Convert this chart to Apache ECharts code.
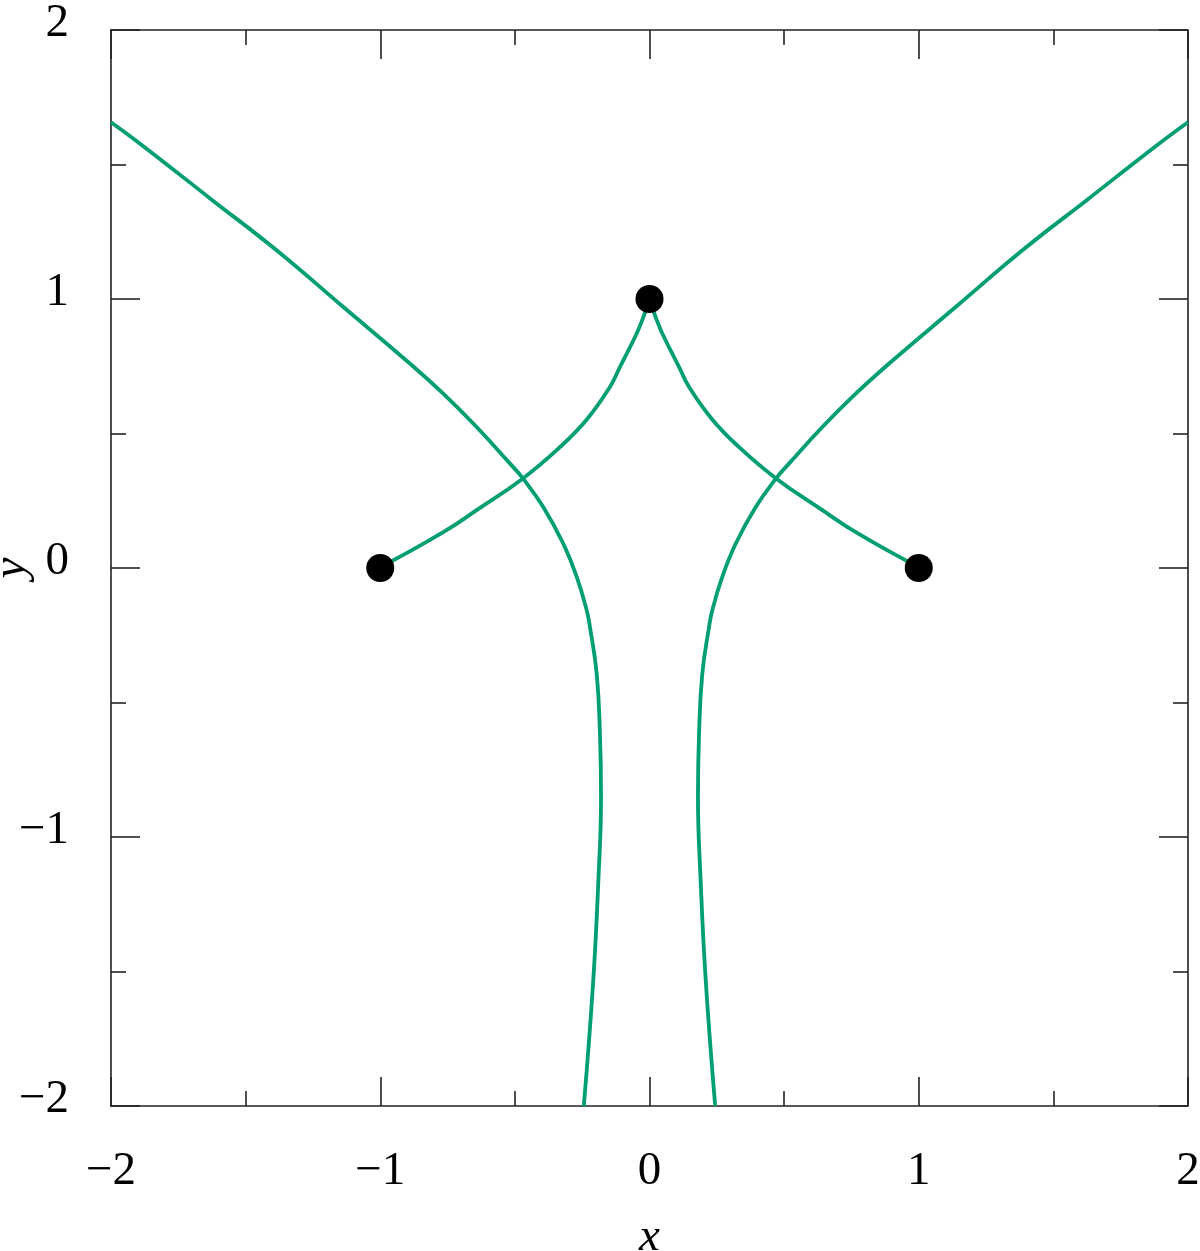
<!DOCTYPE html>
<html>
<head>
<meta charset="utf-8">
<script src="https://cdn.jsdelivr.net/npm/echarts@6/dist/echarts.min.js"></script>
<style>
html,body{margin:0;padding:0;background:#fff;}
#chart{width:1200px;height:1251px;}
</style>
</head>
<body>
<div id="chart"></div>
<script>
// ---- data ----
var leftOuterX = [-2.0, -1.880, -1.632, -1.385, -1.137, -0.890, -0.766, -0.642, -0.518, -0.470, -0.394, -0.320, -0.270, -0.233, -0.221, -0.196, -0.184, -0.180, -0.190, -0.209, -0.244];
var leftOuterY = [1.657, 1.568, 1.374, 1.181, 0.970, 0.760, 0.648, 0.524, 0.388, 0.333, 0.226, 0.090, -0.034, -0.158, -0.220, -0.394, -0.617, -0.850, -1.163, -1.535, -2.0];
var rightOuterX = [2.0, 1.880, 1.632, 1.385, 1.137, 0.890, 0.766, 0.642, 0.518, 0.470, 0.394, 0.320, 0.270, 0.233, 0.221, 0.196, 0.184, 0.180, 0.190, 0.209, 0.244];
var rightOuterY = [1.657, 1.568, 1.374, 1.181, 0.970, 0.760, 0.648, 0.524, 0.388, 0.333, 0.226, 0.090, -0.034, -0.158, -0.220, -0.394, -0.617, -0.850, -1.163, -1.535, -2.0];
var leftArcX = [-1.0, -0.952, -0.766, -0.642, -0.470, -0.332, -0.233, -0.147, -0.110, -0.048, -0.022, 0.0];
var leftArcY = [0.0, 0.028, 0.133, 0.215, 0.333, 0.450, 0.552, 0.673, 0.747, 0.871, 0.935, 1.0];
var rightArcX = [1.0, 0.952, 0.766, 0.642, 0.470, 0.332, 0.233, 0.147, 0.110, 0.048, 0.022, 0.0];
var rightArcY = [0.0, 0.028, 0.133, 0.215, 0.333, 0.450, 0.552, 0.673, 0.747, 0.871, 0.935, 1.0];
var pointX = [-1, 0, 1];
var pointY = [0, 1, 0];
var xTicks = [-2, -1, 0, 1, 2];
var yTicks = [-2, -1, 0, 1, 2];

function zip(a, b) { return a.map(function (v, i) { return [v, b[i]]; }); }
function fmt(v) { return v < 0 ? '\u2212' + Math.abs(v) : String(v); }

var FONT = 'Liberation Serif';
var GREEN = '#009e73';
var AX = '#222';

function baseAxis(extra) {
  var o = {
    type: 'value', min: -2, max: 2, interval: 1,
    axisLine: { show: true, onZero: false, lineStyle: { color: AX, width: 1.6 } },
    axisTick: { show: true, inside: true, length: 29, lineStyle: { color: AX, width: 1.6 } },
    minorTick: { show: true, splitNumber: 2, length: 15, lineStyle: { color: AX, width: 1.6 } },
    splitLine: { show: false },
    minorSplitLine: { show: false }
  };
  for (var k in extra) o[k] = extra[k];
  return o;
}

var chart = echarts.init(document.getElementById('chart'), null, { renderer: 'canvas' });
var lineStyle = { color: GREEN, width: 3.8 };

chart.setOption({
  animation: false,
  backgroundColor: '#fff',
  grid: { left: 111, right: 12, top: 30, bottom: 145, containLabel: false, outerBoundsMode: 'none' },
  xAxis: [
    baseAxis({
      position: 'bottom',
      axisLabel: { show: true, fontFamily: FONT, fontSize: 47, color: '#000', margin: 42,
        formatter: function (v) { return xTicks.indexOf(v) >= 0 ? fmt(v) : ''; } },
      name: 'x', nameLocation: 'middle', nameGap: 108, nameMoveOverlap: false,
      nameTextStyle: { fontFamily: FONT, fontStyle: 'italic', fontSize: 47, color: '#000' }
    }),
    baseAxis({ position: 'top', axisLabel: { show: false } })
  ],
  yAxis: [
    baseAxis({
      position: 'left',
      axisLabel: { show: true, fontFamily: FONT, fontSize: 47, color: '#000', margin: 42,
        verticalAlign: 'bottom', lineHeight: 12,
        formatter: function (v) { return yTicks.indexOf(v) >= 0 ? fmt(v) : ''; } },
      name: 'y', nameLocation: 'middle', nameGap: 76, nameMoveOverlap: false,
      nameTextStyle: { fontFamily: FONT, fontStyle: 'italic', fontSize: 47, color: '#000' }
    }),
    baseAxis({ position: 'right', axisLabel: { show: false } })
  ],
  series: [
    { type: 'line', data: zip(leftOuterX, leftOuterY), showSymbol: false, smooth: 0.45, lineStyle: lineStyle, z: 2 },
    { type: 'line', data: zip(rightOuterX, rightOuterY), showSymbol: false, smooth: 0.45, lineStyle: lineStyle, z: 2 },
    { type: 'line', data: zip(leftArcX, leftArcY), showSymbol: false, smooth: 0.45, lineStyle: lineStyle, z: 2 },
    { type: 'line', data: zip(rightArcX, rightArcY), showSymbol: false, smooth: 0.45, lineStyle: lineStyle, z: 2 },
    { type: 'scatter', data: zip(pointX, pointY), symbol: 'circle', symbolSize: 28, itemStyle: { color: '#000', opacity: 1 }, z: 5 }
  ]
});
</script>
</body>
</html>
